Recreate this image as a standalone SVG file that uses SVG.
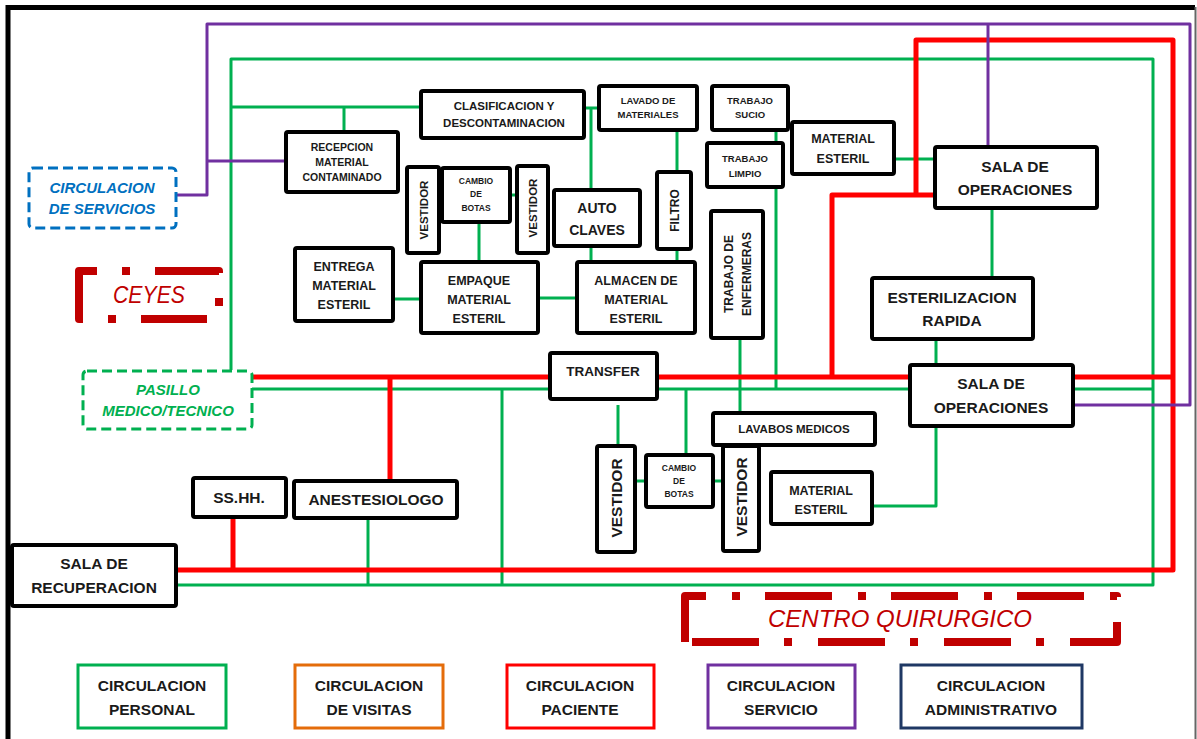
<svg xmlns="http://www.w3.org/2000/svg" width="1197" height="739" viewBox="0 0 1197 739">
<style>
  .box{fill:#fff;stroke:#000;stroke-width:4;rx:2}
  .t{font-family:"Liberation Sans",Arial,sans-serif;font-weight:bold;fill:#1a1a1a;text-anchor:middle}
  .g{fill:none;stroke:#00B050;stroke-width:3;stroke-linejoin:round}
  .r{fill:none;stroke:#FF0000;stroke-width:5;stroke-linejoin:round}
  .p{fill:none;stroke:#7030A0;stroke-width:3;stroke-linejoin:round}
  .zone{font-family:"Liberation Sans",Arial,sans-serif;font-style:italic;text-anchor:middle}
  .zb{font-weight:bold}
  .leg{fill:#fff;stroke-width:3}
  .s8{font-size:8.5px}.s95{font-size:9.5px}.s105{font-size:10.5px}.s115{font-size:11.5px}
  .s12{font-size:12px}.s125{font-size:12.5px}.s135{font-size:13.5px}.s14{font-size:14px}.s155{font-size:15.5px}
</style>
<rect x="0" y="0" width="1197" height="739" fill="#fff"/>
<g id="frame">
  <path d="M8,739 V7.5 H1195" fill="none" stroke="#000" stroke-width="5"/>
  <path d="M1195.5,7 V739" fill="none" stroke="#666" stroke-width="2"/>
</g>

<g id="connectors">
  <g id="personal">
    <path class="g" d="M231,370 V59 H1153 V585 H176"/>
    <path class="g" d="M231,107 H421 M344,107 V132"/>
    <path class="g" d="M584,108 H599 M591,108 V190 M591,246 V262"/>
    <path class="g" d="M677,130 V172 M677,249 V262"/>
    <path class="g" d="M439,195 H442 M510,195 H517 M479,222 V262"/>
    <path class="g" d="M393,299 H421 M538,298 H577"/>
    <path class="g" d="M776,130 V143 M776,187 V389"/>
    <path class="g" d="M740,338 V413"/>
    <path class="g" d="M894,159 H935 M992,208 V278 M936,339 V365"/>
    <path class="g" d="M252,389 H550 M657,389 H910 M1073,389 H1153"/>
    <path class="g" d="M502,389 V585 M686,389 V455 M618,405 V446"/>
    <path class="g" d="M635,481 H646 M713,481 H723"/>
    <path class="g" d="M872,506 H936 V426"/>
    <path class="g" d="M368,518 V585"/>
  </g>
  <g id="paciente">
    <path class="r" d="M916,195 V40 H1173 V570 H176"/>
    <path class="r" d="M935,195 H832 V377"/>
    <path class="r" d="M252,377 H550 M657,377 H910 M1073,377 H1173"/>
    <path class="r" d="M390,377 V481"/>
    <path class="r" d="M233,517 V570"/>
  </g>
  <g id="servicio">
    <path class="p" d="M176,195 H207 V24 H1190 V405 H1073"/>
    <path class="p" d="M207,161 H286"/>
    <path class="p" d="M988,24 V147"/>
  </g>
</g>

<g id="recepcion"><rect class="box" x="286" y="132" width="112" height="60"/>
  <text class="t s105" x="342" y="151">RECEPCION</text><text class="t s105" x="342" y="166">MATERIAL</text><text class="t s105" x="342" y="181">CONTAMINADO</text></g>
<g id="clasificacion"><rect class="box" x="421" y="91" width="163" height="47"/>
  <text class="t s115" x="504" y="110">CLASIFICACION Y</text><text class="t s115" x="504" y="127">DESCONTAMINACION</text></g>
<g id="lavado"><rect class="box" x="599" y="86" width="98" height="44"/>
  <text class="t s95" x="648" y="104">LAVADO DE</text><text class="t s95" x="648" y="118">MATERIALES</text></g>
<g id="trabajo_sucio"><rect class="box" x="712" y="86" width="76" height="44"/>
  <text class="t s95" x="750" y="104">TRABAJO</text><text class="t s95" x="750" y="118">SUCIO</text></g>
<g id="trabajo_limpio"><rect class="box" x="707" y="143" width="76" height="44"/>
  <text class="t s95" x="745" y="162">TRABAJO</text><text class="t s95" x="745" y="177">LIMPIO</text></g>
<g id="vestidor_1"><rect class="box" x="407" y="167" width="32" height="86"/>
  <text class="t s115" transform="translate(428,210) rotate(-90)">VESTIDOR</text></g>
<g id="cambio_botas_1"><rect class="box" x="442" y="168" width="68" height="54"/>
  <text class="t s8" x="476" y="184">CAMBIO</text><text class="t s8" x="476" y="197">DE</text><text class="t s8" x="476" y="211">BOTAS</text></g>
<g id="vestidor_2"><rect class="box" x="517" y="166" width="31" height="87"/>
  <text class="t s115" transform="translate(537,208) rotate(-90)">VESTIDOR</text></g>
<g id="autoclaves"><rect class="box" x="554" y="190" width="86" height="56"/>
  <text class="t s14" x="597" y="213">AUTO</text><text class="t s14" x="597" y="235">CLAVES</text></g>
<g id="filtro"><rect class="box" x="657" y="172" width="34" height="77"/>
  <text class="t s12" transform="translate(679,210.5) rotate(-90)">FILTRO</text></g>
<g id="empaque"><rect class="box" x="421" y="262" width="117" height="71"/>
  <text class="t s125" x="479" y="285">EMPAQUE</text><text class="t s125" x="479" y="304">MATERIAL</text><text class="t s125" x="479" y="323">ESTERIL</text></g>
<g id="almacen"><rect class="box" x="577" y="262" width="118" height="71"/>
  <text class="t s125" x="636" y="285">ALMACEN DE</text><text class="t s125" x="636" y="304">MATERIAL</text><text class="t s125" x="636" y="323">ESTERIL</text></g>
<g id="entrega"><rect class="box" x="295" y="248" width="98" height="73"/>
  <text class="t s125" x="344" y="271">ENTREGA</text><text class="t s125" x="344" y="290">MATERIAL</text><text class="t s125" x="344" y="309">ESTERIL</text></g>
<g id="trabajo_enfermeras"><rect class="box" x="711" y="211" width="52" height="127"/>
  <text class="t s12" transform="translate(733,274) rotate(-90)">TRABAJO DE</text>
  <text class="t s12" transform="translate(751,274) rotate(-90)">ENFERMERAS</text></g>
<g id="material_esteril_1"><rect class="box" x="792" y="122" width="102" height="52"/>
  <text class="t s125" x="843" y="143">MATERIAL</text><text class="t s125" x="843" y="163">ESTERIL</text></g>
<g id="sala_operaciones_1"><rect class="box" x="935" y="147" width="162" height="61"/>
  <text class="t s155" x="1015" y="172">SALA DE</text><text class="t s155" x="1015" y="195">OPERACIONES</text></g>
<g id="esterilizacion_rapida"><rect class="box" x="872" y="278" width="161" height="61"/>
  <text class="t s155" x="952" y="303">ESTERILIZACION</text><text class="t s155" x="952" y="326">RAPIDA</text></g>
<g id="sala_operaciones_2"><rect class="box" x="910" y="365" width="163" height="61"/>
  <text class="t s155" x="991" y="389">SALA DE</text><text class="t s155" x="991" y="413">OPERACIONES</text></g>
<g id="transfer"><rect class="box" x="550" y="353" width="107" height="46"/>
  <text class="t s135" x="603" y="376">TRANSFER</text></g>
<g id="vestidor_3"><rect class="box" x="597" y="446" width="38" height="106"/>
  <text class="t s155" transform="translate(622,498) rotate(-90)">VESTIDOR</text></g>
<g id="cambio_botas_2"><rect class="box" x="646" y="455" width="67" height="52"/>
  <text class="t s8" x="679" y="471">CAMBIO</text><text class="t s8" x="679" y="484">DE</text><text class="t s8" x="679" y="497">BOTAS</text></g>
<g id="vestidor_4"><rect class="box" x="723" y="446" width="36" height="105"/>
  <text class="t s155" transform="translate(747,497) rotate(-90)">VESTIDOR</text></g>
<g id="lavabos_medicos"><rect class="box" x="713" y="413" width="162" height="32"/>
  <text class="t s115" x="794" y="433">LAVABOS MEDICOS</text></g>
<g id="material_esteril_2"><rect class="box" x="771" y="472" width="101" height="52"/>
  <text class="t s125" x="821" y="495">MATERIAL</text><text class="t s125" x="821" y="514">ESTERIL</text></g>
<g id="sshh"><rect class="box" x="193" y="478" width="93" height="39"/>
  <text class="t s155" x="239" y="503">SS.HH.</text></g>
<g id="anestesiologo"><rect class="box" x="294" y="481" width="163" height="37"/>
  <text class="t s155" x="376" y="505">ANESTESIOLOGO</text></g>
<g id="sala_recuperacion"><rect class="box" x="12" y="545" width="164" height="61"/>
  <text class="t s155" x="94" y="569">SALA DE</text><text class="t s155" x="94" y="593">RECUPERACION</text></g>

<g id="circulacion_servicios">
  <rect x="29" y="168" width="147" height="60" rx="4" fill="#fff" stroke="#0070C0" stroke-width="3" stroke-dasharray="10 5"/>
  <text class="zone zb" x="102" y="193" font-size="15" fill="#0070C0">CIRCULACION</text>
  <text class="zone zb" x="102" y="214" font-size="15" fill="#0070C0">DE SERVICIOS</text>
</g>
<g id="pasillo">
  <rect x="83" y="371" width="169" height="58" rx="4" fill="#fff" stroke="#00B050" stroke-width="3" stroke-dasharray="10 5"/>
  <text class="zone zb" x="168" y="395" font-size="15" fill="#00B050">PASILLO</text>
  <text class="zone zb" x="168" y="416" font-size="15" fill="#00B050">MEDICO/TECNICO</text>
</g>
<g id="ceyes">
  <path d="M79,319 V271 H219 V319 Z" fill="none" stroke="#C00000" stroke-width="8" stroke-linejoin="round" stroke-dasharray="66 25 8 25"/>
  <text class="zone" x="149" y="303" font-size="23.5" fill="#C00000" textLength="72" lengthAdjust="spacingAndGlyphs">CEYES</text>
</g>
<g id="centro_quirurgico">
  <path d="M685,642 V596 H1117 V642 Z" fill="none" stroke="#C00000" stroke-width="8" stroke-linejoin="round" stroke-dasharray="67 26 8 25"/>
  <text class="zone" x="900" y="627" font-size="24" fill="#C00000">CENTRO QUIRURGICO</text>
</g>

<g id="legend">
  <g id="leg_personal"><rect class="leg" x="78" y="665" width="148" height="63" stroke="#00B050"/>
    <text class="t s155" x="152" y="691">CIRCULACION</text><text class="t s155" x="152" y="715">PERSONAL</text></g>
  <g id="leg_visitas"><rect class="leg" x="295" y="665" width="148" height="63" stroke="#E46C0A"/>
    <text class="t s155" x="369" y="691">CIRCULACION</text><text class="t s155" x="369" y="715">DE VISITAS</text></g>
  <g id="leg_paciente"><rect class="leg" x="507" y="665" width="147" height="63" stroke="#FF0000"/>
    <text class="t s155" x="580" y="691">CIRCULACION</text><text class="t s155" x="580" y="715">PACIENTE</text></g>
  <g id="leg_servicio"><rect class="leg" x="708" y="665" width="147" height="63" stroke="#7030A0"/>
    <text class="t s155" x="781" y="691">CIRCULACION</text><text class="t s155" x="781" y="715">SERVICIO</text></g>
  <g id="leg_administrativo"><rect class="leg" x="901" y="665" width="181" height="63" stroke="#1F3864"/>
    <text class="t s155" x="991" y="691">CIRCULACION</text><text class="t s155" x="991" y="715">ADMINISTRATIVO</text></g>
</g>
</svg>
